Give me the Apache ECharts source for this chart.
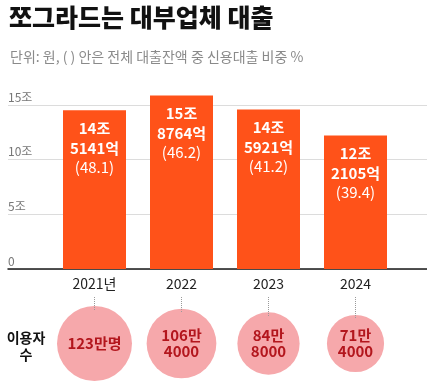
<!DOCTYPE html>
<html><head><meta charset="utf-8">
<script src="https://cdn.jsdelivr.net/npm/echarts@6/dist/echarts.min.js"></script>
<style>html,body{margin:0;padding:0;background:#fff}#c{width:427px;height:390px}</style>
</head><body><div id="c"></div>
<script>
const titleText = '쪼그라드는 대부업체 대출';
const subtitleText = '단위: 원, ( ) 안은 전체 대출잔액 중 신용대출 비중 %';
const years = ['2021년', '2022', '2023', '2024'];
const loanJo = [14, 15, 14, 12];
const loanEok = [5141, 8764, 5921, 2105];
const creditShare = ['48.1', '46.2', '41.2', '39.4'];
const usersMan = [123, 106, 84, 71];
const usersRest = [0, 4000, 8000, 4000];
const yTicks = [0, 5, 10, 15];
const userLabel = '이용자\n수';

const FONT = '"Noto Sans CJK KR", "Noto Sans", sans-serif';
const loanValues = loanJo.map((j, i) => j + loanEok[i] / 10000);
const userValues = usersMan.map((m, i) => m + usersRest[i] / 10000);
const bubbleSize = v => Math.sqrt(v) * 6.76;
const bubbleGridH = 105;

const chart = echarts.init(document.getElementById('c'), null, {renderer: 'canvas'});
chart.setOption({
  animation: false,
  textStyle: {fontFamily: FONT},
  title: [
    {text: titleText, left: 9, top: 5, padding: 0,
     textStyle: {fontFamily: FONT, fontSize: 25, fontWeight: 900, color: '#111'}},
    {text: subtitleText, left: 10, top: 50, padding: 0,
     textStyle: {fontFamily: FONT, fontSize: 14, fontWeight: 'normal', color: '#8a8a8a'}}
  ],
  graphic: [{
    type: 'text', x: 26, y: 329,
    style: {text: userLabel, fontFamily: FONT, fontSize: 14, fontWeight: 'bold',
            fill: '#111', align: 'center', verticalAlign: 'top', lineHeight: 17}
  }],
  grid: [
    {left: 8, right: 0, top: 105, height: 164},
    {left: 51, right: 28, top: 105, height: 164},
    {left: 51, right: 28, top: 297, height: bubbleGridH}
  ],
  xAxis: [
    {gridIndex: 0, type: 'value', min: 0, max: 1, axisLabel: {show: false}, axisTick: {show: false},
     splitLine: {show: false}, axisLine: {show: true, onZero: false, lineStyle: {color: '#1a1a1a', width: 1.5}}},
    {gridIndex: 1, type: 'category', data: years, axisLine: {show: false}, axisTick: {show: false},
     axisLabel: {color: '#222', fontSize: 14, margin: 8, fontFamily: FONT}},
    {gridIndex: 2, type: 'category', data: years, show: false}
  ],
  yAxis: [
    {gridIndex: 0, type: 'value', min: 0, max: 15, interval: 5,
     axisLine: {show: false}, axisTick: {show: false},
     splitLine: {lineStyle: {color: '#dcdcdc', width: 1}},
     axisLabel: {inside: true, margin: 0, align: 'left', verticalAlign: 'bottom', padding: [0, 0, 2, 0],
       color: '#777', fontSize: 12, fontFamily: FONT,
       formatter: v => yTicks.includes(v) ? (v === 0 ? '0' : v + '조') : ''}},
    {gridIndex: 1, type: 'value', min: 0, max: 15, show: false},
    {gridIndex: 2, type: 'value', min: 0, max: 1, show: false}
  ],
  series: [
    {type: 'bar', xAxisIndex: 1, yAxisIndex: 1, data: loanValues, barWidth: 63, clip: false,
     itemStyle: {color: '#ff5219'},
     label: {show: true, position: 'insideTop', distance: 8, align: 'center',
       formatter: p => `{b|${loanJo[p.dataIndex]}조}\n{b|${loanEok[p.dataIndex]}억}\n{n|(${creditShare[p.dataIndex]})}`,
       rich: {
         b: {fontFamily: FONT, fontSize: 15, fontWeight: 'bold', color: '#fff', lineHeight: 20, align: 'center'},
         n: {fontFamily: FONT, fontSize: 15, fontWeight: 'normal', color: '#fff', lineHeight: 17, align: 'center'}
       }}},
    {type: 'scatter', xAxisIndex: 2, yAxisIndex: 2, z: 1, symbolSize: 0,
     data: [],
     markLine: {silent: true, symbol: 'none', label: {show: false},
       lineStyle: {type: 'dotted', color: '#9a9a9a', width: 1},
       data: userValues.map((v, i) => [
         {coord: [i, 1]},
         {coord: [i, 0.5 + bubbleSize(v) / 2 / bubbleGridH]}
       ])}},
    {type: 'scatter', xAxisIndex: 2, yAxisIndex: 2, z: 3,
     data: userValues.map((v, i) => [i, 0.5, v]),
     symbolSize: d => bubbleSize(d[2]),
     itemStyle: {color: '#f6a8ab', opacity: 1},
     label: {show: true, position: 'inside',
       formatter: p => {
         const i = p.dataIndex;
         return usersRest[i] === 0 ? usersMan[i] + '만명' : usersMan[i] + '만\n' + usersRest[i];
       },
       fontFamily: FONT, fontSize: 15, fontWeight: 'bold', color: '#b3161d', lineHeight: 16}}
  ]
});
</script></body></html>
